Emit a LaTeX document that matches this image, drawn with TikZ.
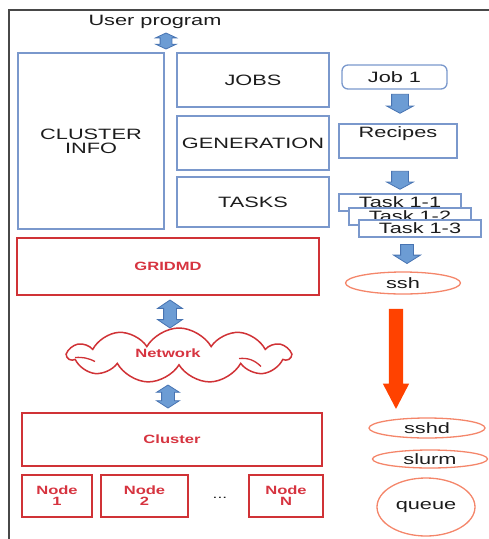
\documentclass[tikz,border=0pt]{standalone}
\usepackage{fontspec}
\setmainfont{Liberation Sans}[FakeStretch=1.45]
\newfontfamily\redfont{Liberation Sans}[FakeStretch=1.38]
\usetikzlibrary{shapes.geometric,shapes.symbols,shapes.arrows,calc}

\definecolor{boxblue}{RGB}{122,152,204}
\definecolor{arrowblue}{RGB}{108,156,212}
\definecolor{arrowedge}{RGB}{72,116,178}
\definecolor{gridred}{RGB}{208,50,54}
\definecolor{labelred}{RGB}{214,52,64}
\definecolor{coral}{RGB}{244,134,106}
\definecolor{bigorange}{RGB}{255,66,0}
\definecolor{framegray}{RGB}{72,72,72}
\definecolor{textdark}{RGB}{28,28,28}

\tikzset{
  blacktext/.style={text=textdark, font=\fontsize{15}{14}\selectfont, align=center, inner sep=0pt},
  bluebox/.style={blacktext, draw=boxblue, line width=1.3pt},
  taskbox/.style={bluebox, fill=white, minimum width=122pt, minimum height=17pt},
  oval/.style={blacktext, ellipse, draw=coral, line width=1.3pt},
  redtext/.style={text=labelred, font=\redfont\bfseries\fontsize{12}{11}\selectfont, align=center, inner sep=0pt},
  redbox/.style={redtext, draw=gridred, line width=2pt},
  updown/.style={double arrow, rotate=90, draw=arrowedge, fill=arrowblue, line width=0.8pt, inner xsep=0pt},
  downarrow/.style={single arrow, rotate=-90, draw=arrowedge, fill=arrowblue, line width=0.8pt, inner xsep=0pt},
}

\begin{document}
\begin{tikzpicture}[x=1pt, y=-1pt]
\useasboundingbox (0,0) rectangle (489,539);

% page frame (left and top edges)
\draw[framegray, line width=1.6pt] (9,539) -- (9,10) -- (489,10);

% user side
\node[blacktext] (user) at (155,22) {User program};
\node[updown, minimum height=16pt, minimum width=20pt, inner ysep=5.5pt,
      double arrow head extend=4.5pt, double arrow tip angle=130] (a0) at (166,41) {};

\node[bluebox, minimum width=146pt, minimum height=176pt] (info) at (91,141) {CLUSTER\\INFO};
\node[bluebox, minimum width=152pt, minimum height=54pt] (jobs) at (253,80) {JOBS};
\node[bluebox, minimum width=152pt, minimum height=54pt] (gen) at (253,143) {GENERATION};
\node[bluebox, minimum width=152pt, minimum height=50pt] (tasks) at (253,202) {TASKS};

% job pipeline
\node[bluebox, rounded corners=6pt, minimum width=105pt, minimum height=24pt] (job1) at (394.5,77) {Job 1};
\node[downarrow, minimum height=19pt, minimum width=26pt, inner ysep=8pt,
      single arrow head extend=5pt, single arrow tip angle=123] (a1) at (400,101.5) {};
\node[bluebox, minimum width=118pt, minimum height=34pt] (recipes) at (398,141) {};
\node[blacktext] (recipestxt) at ($(recipes.north)+(0,10)$) {Recipes};
\node[downarrow, minimum height=18pt, minimum width=26pt, inner ysep=8pt,
      single arrow head extend=5pt, single arrow tip angle=123] (a2) at (400,178) {};
\node[taskbox] (t1) at (400,202.5) {Task 1-1};
\node[taskbox] (t2) at (410,216.5) {Task 1-2};
\node[taskbox] (t3) at (420,228.5) {Task 1-3};
\node[downarrow, minimum height=19pt, minimum width=26pt, inner ysep=6pt,
      single arrow head extend=7pt, single arrow tip angle=116] (a3) at (407,252) {};
\node[oval, minimum width=115pt, minimum height=22pt] (ssh) at (403,283) {ssh};

\node[single arrow, rotate=-90, fill=bigorange, inner xsep=0pt, inner ysep=7pt,
      minimum height=100pt, minimum width=26pt,
      single arrow head extend=6pt, single arrow tip angle=55] (big) at (396,352) {};

\node[oval, minimum width=116pt, minimum height=20pt] (sshd) at (427,428) {sshd};
\node[oval, minimum width=115pt, minimum height=18pt] (slurm) at (430,459) {slurm};
\node[oval, minimum width=98pt, minimum height=58pt] (queue) at (426,507) {queue};

% grid middleware, network and cluster
\node[redbox, minimum width=302pt, minimum height=57pt] (grid) at (168,266.5) {GRIDMD};
\node[updown, minimum height=28pt, minimum width=24pt, inner ysep=6pt,
      double arrow head extend=6pt, double arrow tip angle=112] (a4) at (170,314) {};
\node[cloud, draw=gridred, line width=1.5pt, cloud puffs=11, cloud puff arc=120, cloud ignores aspect,
      minimum width=222pt, minimum height=55pt, inner sep=0pt] (net) at (179,355.5) {};
% inner folds of the cloud outline
\draw[gridred, line width=1.3pt] ($(net.center)+(-104,2)$) to[bend left=15] ++(20,4);
\draw[gridred, line width=1.3pt] ($(net.center)+(60,3)$) to[bend left=25] ++(22,8);
\node[redtext] (nettxt) at ($(net.center)+(-11,-2)$) {Network};
\node[updown, minimum height=23pt, minimum width=22pt, inner ysep=6pt,
      double arrow head extend=5pt, double arrow tip angle=115] (a5) at (168,396.5) {};
\node[redbox, minimum width=300pt, minimum height=53pt] (cluster) at (172,439.5) {Cluster};
\node[redbox, minimum width=70pt, minimum height=42pt] (n1) at (57,496) {Node\\1};
\node[redbox, minimum width=87pt, minimum height=42pt] (n2) at (144.5,496) {Node\\2};
\node[blacktext, font=\fontsize{12}{12}\selectfont] (dots) at (220,498) {...};
\node[redbox, minimum width=74pt, minimum height=42pt] (nN) at (286,496) {Node\\N};
\end{tikzpicture}
\end{document}
